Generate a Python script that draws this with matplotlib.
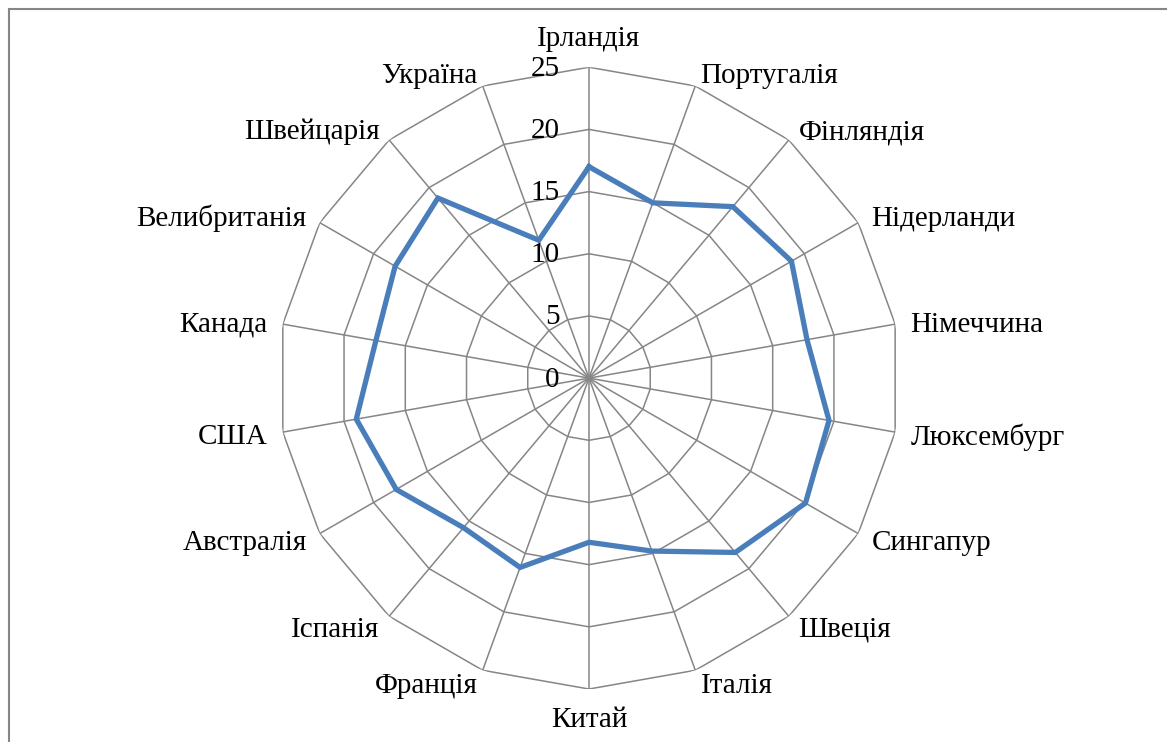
import numpy as np
import matplotlib
matplotlib.use("Agg")
import matplotlib.pyplot as plt
from matplotlib.patches import Rectangle

plt.rcParams['font.family'] = ['Liberation Serif', 'DejaVu Serif']

# -------------------------------------------------------
# Data
# -------------------------------------------------------
countries = ["Ірландія", "Португалія", "Фінляндія", "Нідерланди", "Німеччина",
             "Люксембург", "Сингапур", "Швеція", "Італія", "Китай", "Франція",
             "Іспанія", "Австралія", "США", "Канада", "Велибританія",
             "Швейцарія", "Україна"]
values = [17.0, 15.0, 18.0, 18.8, 17.8, 19.6, 20.1, 18.3, 14.8, 13.2, 16.2,
          15.7, 17.9, 19.0, 17.4, 18.0, 18.9, 11.8]
ticks = [0, 5, 10, 15, 20, 25]

grid_color = "#868686"
line_color = "#4A7EBB"

fig = plt.figure(figsize=(11.67, 7.42), dpi=100)
fig.patch.set_facecolor("white")

# outer frame (only top and left edges visible in the reference)
fig.patches.append(Rectangle((9 / 1167, -0.1), 1.2, 1.1 - 9 / 742,
                             transform=fig.transFigure, fill=False,
                             ec=grid_color, lw=1.5))

ax = fig.add_axes([0.2382, 0.0714, 0.533, 0.838], projection="polar")
ax.set_theta_zero_location("N")
ax.set_theta_direction(-1)
ax.set_ylim(0, 25)
ax.grid(False)
ax.spines["polar"].set_visible(False)
ax.set_xticks([])
ax.set_yticks([])
ax.patch.set_alpha(0)

n = len(countries)
angles = np.arange(n) * 2 * np.pi / n
closed = np.append(angles, angles[0])

# polygonal rings
for t in ticks[1:]:
    ax.plot(closed, [t] * (n + 1), color=grid_color, lw=1.1, zorder=1)

# spokes
for a in angles:
    ax.plot([a, a], [0, ticks[-1]], color=grid_color, lw=1.1, zorder=1)

# data line
ax.plot(closed, values + [values[0]], color=line_color, lw=3.8, zorder=3,
        solid_joinstyle="miter")

# radial tick labels
for t in ticks:
    ax.annotate(str(t), xy=(0, t), xytext=(-21, -1), textcoords="offset points",
                ha="right", va="center", fontsize=21, zorder=4)

# category labels
for a, name in zip(angles, countries):
    s, c = np.sin(a), np.cos(a)
    if abs(s) < 0.05:
        ha = "center"
        if c > 0:
            off, va = (0, 11), "bottom"
        else:
            off, va = (0, -13), "top"
    else:
        ha = "left" if s > 0 else "right"
        va = "center"
        off = (s * 11, c * 10 - 2)
    ax.annotate(name, xy=(a, ticks[-1]), xytext=off, textcoords="offset points",
                ha=ha, va=va, fontsize=21, annotation_clip=False)

fig.savefig("out.png", dpi=100)
